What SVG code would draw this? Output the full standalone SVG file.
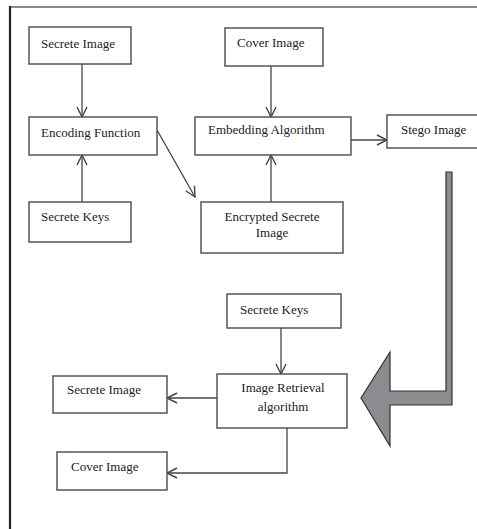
<svg xmlns="http://www.w3.org/2000/svg" width="477" height="529" viewBox="0 0 477 529">
<style>
.box{fill:#fff;stroke:#4a4a4a;stroke-width:1.4}
.t{font-family:"Liberation Serif","Times New Roman",serif;font-size:13px;fill:#222}
.c{text-anchor:middle}
.ln{fill:none;stroke:#444;stroke-width:1.3}
</style>
<defs>
<marker id="ah" viewBox="0 0 12 12" refX="11" refY="6" markerWidth="12" markerHeight="12" markerUnits="userSpaceOnUse" orient="auto">
<polyline points="1,1 11,6 1,11" fill="none" stroke="#444" stroke-width="1.4"/>
</marker>
</defs>
<rect width="477" height="529" fill="#fff"/>
<line x1="10" y1="7" x2="477" y2="7" stroke="#666" stroke-width="1.5"/>
<line x1="10" y1="6" x2="10" y2="529" stroke="#222" stroke-width="2.2"/>

<g id="connectors">
<line class="ln" x1="82" y1="64" x2="82" y2="117" marker-end="url(#ah)"/>
<line class="ln" x1="82" y1="202" x2="82" y2="155" marker-end="url(#ah)"/>
<line class="ln" x1="157" y1="130" x2="195" y2="197" marker-end="url(#ah)"/>
<line class="ln" x1="271" y1="66" x2="271" y2="117" marker-end="url(#ah)"/>
<line class="ln" x1="271" y1="202" x2="271" y2="155" marker-end="url(#ah)"/>
<line class="ln" x1="351" y1="140" x2="387" y2="140" marker-end="url(#ah)"/>
<line class="ln" x1="281" y1="328" x2="281" y2="374" marker-end="url(#ah)"/>
<line class="ln" x1="217" y1="398" x2="167" y2="398" marker-end="url(#ah)"/>
<polyline class="ln" points="287,428 287,473 167,473" marker-end="url(#ah)"/>
</g>

<g id="bigarrow">
<polygon points="446,172 452,172 452,405 390,405 390,446 361,398 390,352 390,391 446,391" fill="#8c8c90" stroke="#333" stroke-width="1.2"/>
</g>

<g id="secrete-image-top">
<rect class="box" x="29" y="27" width="102" height="37"/>
<text class="t" x="41" y="48">Secrete Image</text>
</g>
<g id="encoding-function">
<rect class="box" x="29" y="117" width="128" height="38"/>
<text class="t" x="41" y="137">Encoding Function</text>
</g>
<g id="secrete-keys-top">
<rect class="box" x="29" y="202" width="102" height="40"/>
<text class="t" x="41" y="221">Secrete Keys</text>
</g>
<g id="cover-image-top">
<rect class="box" x="225" y="28" width="98" height="38"/>
<text class="t" x="237" y="47">Cover Image</text>
</g>
<g id="embedding-algorithm">
<rect class="box" x="195" y="117" width="156" height="38"/>
<text class="t" x="208" y="134">Embedding Algorithm</text>
</g>
<g id="encrypted-secrete-image">
<rect class="box" x="201" y="202" width="142" height="51"/>
<text class="t c" x="272" y="221">Encrypted Secrete</text>
<text class="t c" x="272" y="237">Image</text>
</g>
<g id="stego-image">
<rect class="box" x="387" y="115" width="95" height="33"/>
<text class="t" x="401" y="134">Stego Image</text>
</g>
<g id="secrete-keys-bottom">
<rect class="box" x="227" y="294" width="114" height="34"/>
<text class="t" x="240" y="314">Secrete Keys</text>
</g>
<g id="image-retrieval">
<rect class="box" x="217" y="374" width="130" height="54"/>
<text class="t c" x="283" y="392">Image Retrieval</text>
<text class="t c" x="283" y="411">algorithm</text>
</g>
<g id="secrete-image-bottom">
<rect class="box" x="53" y="376" width="114" height="37"/>
<text class="t" x="67" y="394">Secrete Image</text>
</g>
<g id="cover-image-bottom">
<rect class="box" x="57" y="452" width="110" height="38"/>
<text class="t" x="71" y="471">Cover Image</text>
</g>
</svg>
